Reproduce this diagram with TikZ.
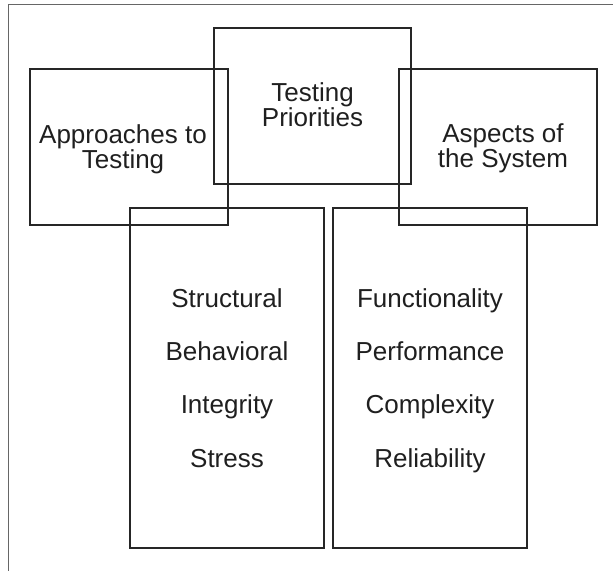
\documentclass[tikz,border=0pt]{standalone}
\usepackage{fontspec}
\setmainfont{Liberation Sans}
\usetikzlibrary{positioning}

\begin{document}
\begin{tikzpicture}[
  x=1pt, y=-1pt,
  frame/.style={draw=black!60, line width=0.9pt},
  box/.style={rectangle, draw=black!85, line width=2pt, inner sep=0pt},
  topbox/.style={box, minimum width=198pt, minimum height=156pt},
  listbox/.style={box, minimum width=194pt, minimum height=340pt},
  txt/.style={font=\fontsize{26}{25}\selectfont, align=center, inner sep=0pt, text=black!88},
  item/.style={font=\fontsize{26}{30}\selectfont, anchor=base, inner sep=0pt, text=black!88}
]
  \useasboundingbox (0,0) rectangle (613,571);

  % page frame (top and left edge only)
  \coordinate (ftop)    at (613,4);
  \coordinate (fcorner) at (8.3,4);
  \coordinate (fbottom) at (8.3,571);
  \draw[frame] (ftop) -- (fcorner) -- (fbottom);

  % the three overlapping heading boxes
  \node[topbox]                         (approach) at (129,147)   {};
  \node[topbox, minimum width=197pt]    (priority) at (312.5,106) {};
  \node[topbox]                         (aspect)   at (498,147)   {};

  % the two tall list boxes
  \node[listbox]                        (methods)  at (227,378)   {};
  \node[listbox]                        (system)   at (430,378)   {};

  \node[txt] (approachtxt) at (123,149)   {Approaches to\\Testing};
  \node[txt] (prioritytxt) at (312.5,105) {Testing\\Priorities};
  \node[txt] (aspecttxt)   at (503,148)   {Aspects of\\the System};

  % approaches
  \node[item] (structural)  at (227,307)   {Structural};
  \node[item] (behavioral)  at (227,360.3) {Behavioral};
  \node[item] (integrity)   at (227,413.7) {Integrity};
  \node[item] (stress)      at (227,467)   {Stress};

  % aspects
  \node[item] (function)    at (430,307)   {Functionality};
  \node[item] (performance) at (430,360.3) {Performance};
  \node[item] (complexity)  at (430,413.7) {Complexity};
  \node[item] (reliability) at (430,467)   {Reliability};
\end{tikzpicture}
\end{document}
